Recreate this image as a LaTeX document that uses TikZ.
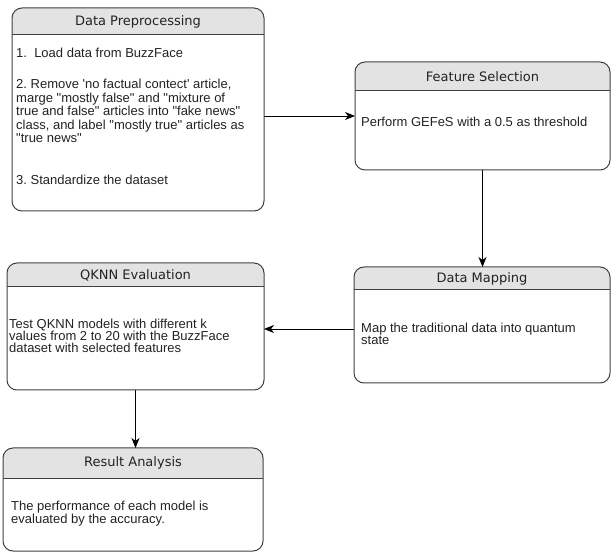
\documentclass[tikz,border=0pt]{standalone}
\usepackage{fontspec}
\setmainfont{Liberation Sans}
\newfontfamily\bodyfont{Liberation Sans}
\newfontfamily\hdrfont{DejaVu Sans}
\usetikzlibrary{arrows.meta}
\definecolor{hdrgray}{HTML}{E3E3E3}
\definecolor{edgegray}{HTML}{404040}
\definecolor{txt}{HTML}{222222}
\tikzset{
  stage/.style={draw=edgegray, line width=1pt, rounded corners=10pt, inner sep=0pt, outer sep=0pt},
  stagetitle/.style={font=\hdrfont\fontsize{13}{15}\selectfont, text=txt, inner sep=0pt},
  body/.style={font=\bodyfont\fontsize{13}{13.4}\selectfont\frenchspacing, text=txt, align=left, anchor=west, inner sep=0pt},
  bodytight/.style={body, font=\bodyfont\fontsize{13}{12}\selectfont\frenchspacing},
  arr/.style={draw=black, line width=0.9pt, -{Stealth[length=10pt,width=8pt,inset=3pt]}}
}
% #1 name, #2 x1, #3 y1, #4 x2, #5 y2, #6 header bottom y, #7 title
\newcommand\stagebox[7]{%
  \begin{scope}
    \clip[rounded corners=10pt] (#2,#3) rectangle (#4,#5);
    \fill[hdrgray] (#2,#3) rectangle (#4,#6);
  \end{scope}
  \draw[edgegray, line width=1pt] (#2,#6) -- (#4,#6);
  \node[stage, anchor=north west, minimum width={(#4-#2)*1pt}, minimum height={(#5-#3)*1pt}] (#1) at (#2,#3) {};
  \node[stagetitle] (#1-title) at ({(#2+#4)/2},{(#3+#6)/2}) {#7};
}
\begin{document}
\begin{tikzpicture}[x=1pt,y=-1pt]
\useasboundingbox (0,0) rectangle (611,553);

\stagebox{dp}{12}{8}{264}{211}{35}{Data Preprocessing}
\stagebox{fs}{355}{62}{610}{170}{91}{Feature Selection}
\stagebox{dm}{354}{267}{610}{383}{290}{Data Mapping}
\stagebox{qk}{7}{263}{264}{390}{287}{QKNN Evaluation}
\stagebox{ra}{3}{448}{263}{551}{478}{Result Analysis}

\node[body] (dp-l1) at (16,53) {1.\ \ Load data from BuzzFace};
\node[body] (dp-l2) at (16,111) {2. Remove 'no factual contect' article,\\marge "mostly false" and "mixture of\\true and false" articles into "fake news"\\class, and label "mostly true" articles as\\"true news"};
\node[body] (dp-l3) at (16,180) {3. Standardize the dataset};
\node[body] (fs-txt) at (361,122) {Perform GEFeS with a 0.5 as threshold};
\node[bodytight] (dm-txt) at (361,334) {Map the traditional data into quantum\\state};
\node[bodytight] (qk-txt) at (9,336) {Test QKNN models with different k\\values from 2 to 20 with the BuzzFace\\dataset with selected features};
\node[bodytight] (ra-txt) at (11,514) {The performance of each model is\\evaluated by the accuracy.};

\draw[arr] (dp.east |- fs.west) -- (fs.west);
\draw[arr] (fs.south) -- (fs.south |- dm.north);
\draw[arr] ([yshift=-4pt]dm.west) -- ([yshift=-4pt]dm.west -| qk.east);
\draw[arr] (qk.south) -- (qk.south |- ra.north);
\end{tikzpicture}
\end{document}
